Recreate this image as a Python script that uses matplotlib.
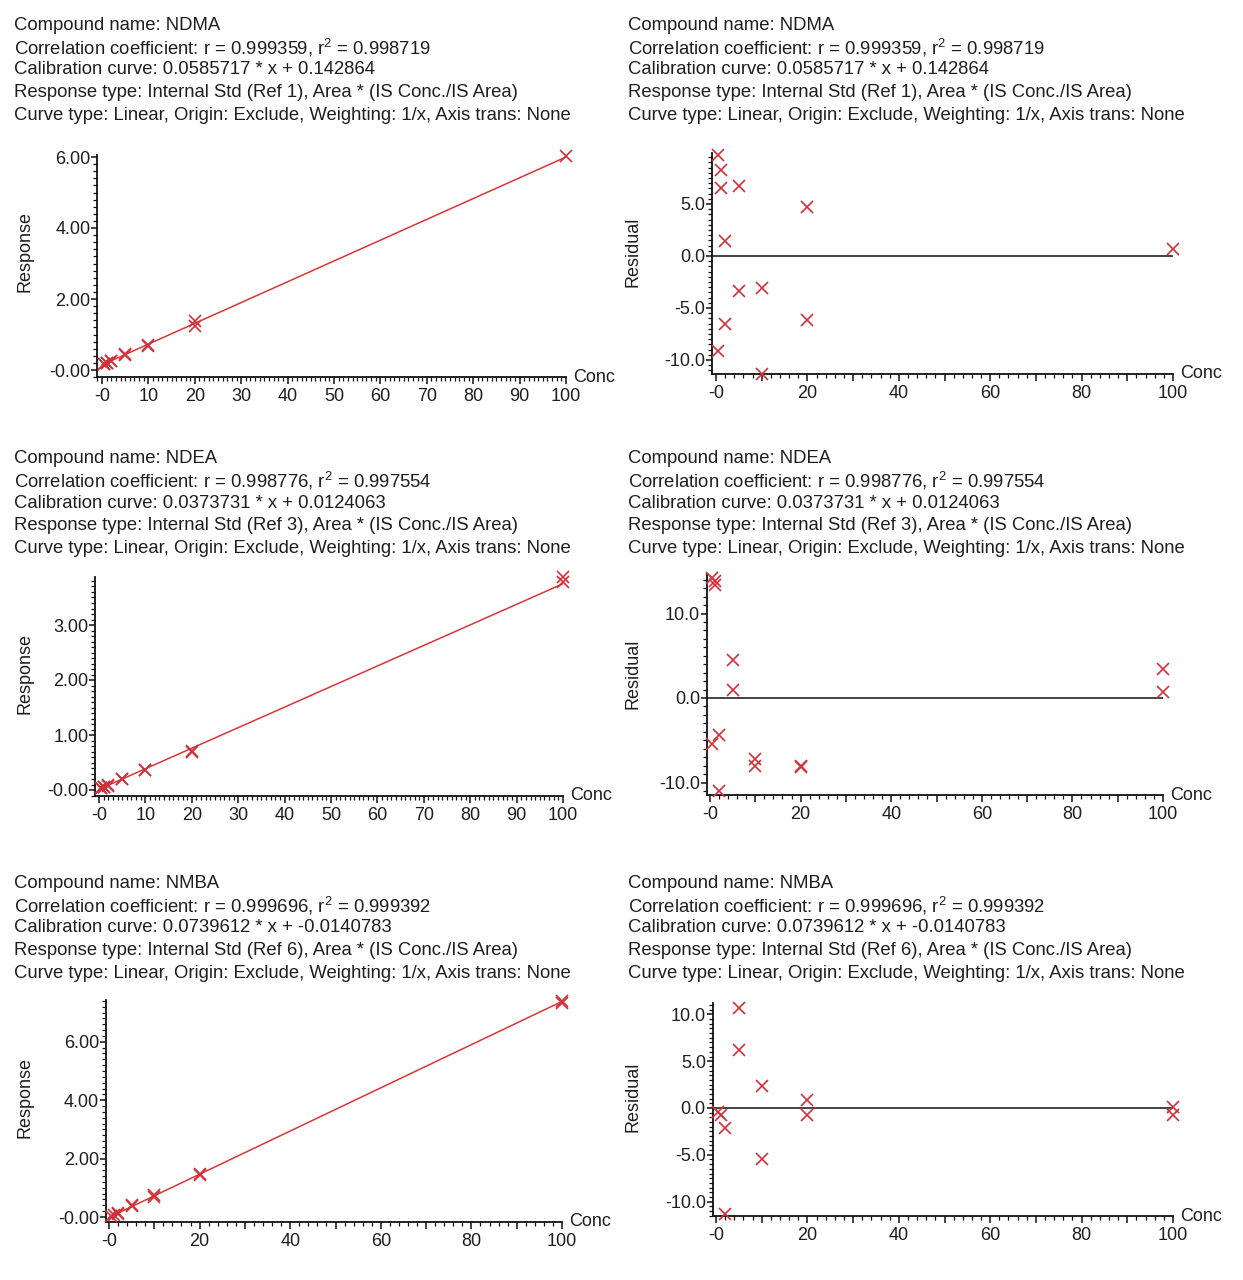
import numpy as np
import matplotlib
matplotlib.use('Agg')
import matplotlib.pyplot as plt
from matplotlib.ticker import MultipleLocator, FuncFormatter

plt.rcParams['font.family'] = ['Liberation Sans', 'DejaVu Sans']
plt.rcParams['mathtext.fontset'] = 'custom'
plt.rcParams['mathtext.rm'] = 'Liberation Sans'
plt.rcParams['mathtext.default'] = 'regular'

# ---------------- data ----------------
compounds = ['NDMA', 'NDEA', 'NMBA']
r_text = ['0.999359', '0.998776', '0.999696']
r2_text = ['0.998719', '0.997554', '0.999392']
slopes = [0.0585717, 0.0373731, 0.0739612]
intercepts = [0.142864, 0.0124063, -0.0140783]
slope_text = ['0.0585717', '0.0373731', '0.0739612']
intercept_text = ['0.142864', '0.0124063', '-0.0140783']
ref_ids = [1, 3, 6]

ndma_conc = [0.5, 0.5, 1, 1, 2, 2, 5, 5, 10, 10, 20, 20, 100]
ndma_resp = [0.1743, 0.1695, 0.2063, 0.2052, 0.2617, 0.2524, 0.4553, 0.4258,
             0.7104, 0.6624, 1.3694, 1.2417, 6.0410]
ndma_resid = [9.7, -9.1, 8.3, 6.5, 1.4, -6.5, 6.7, -3.4, -3.1, -11.3, 4.7, -6.2, 0.7]

ndea_conc = [0.5, 0.5, 1, 1, 2, 2, 5, 5, 10, 10, 20, 20, 100, 100]
ndea_resp = [0.0338, 0.0301, 0.0550, 0.0548, 0.0839, 0.0789, 0.2077, 0.2010,
             0.3592, 0.3562, 0.7001, 0.6986, 3.8768, 3.7759]
ndea_resid = [14.2, -5.4, 13.9, 13.4, -4.4, -11.0, 4.5, 0.9, -7.2, -8.0, -8.0, -8.2, 3.4, 0.7]

nmba_conc = [0.5, 1, 2, 2, 5, 5, 10, 10, 20, 20, 100, 100]
nmba_resp = [0.0228, 0.0593, 0.1307, 0.1171, 0.3953, 0.3787, 0.7433, 0.6856,
             1.4785, 1.4548, 7.3894, 7.3303]
nmba_resid = [-0.4, -0.8, -2.1, -11.3, 10.7, 6.2, 2.4, -5.4, 0.9, -0.7, 0.1, -0.7]

concs = [ndma_conc, ndea_conc, nmba_conc]
resps = [ndma_resp, ndea_resp, nmba_resp]
resids = [ndma_resid, ndea_resid, nmba_resid]

# ---------------- layout (pixels) ----------------
W, H = 1243, 1280
fig = plt.figure(figsize=(W / 100, H / 100), dpi=100)

TXT = '#1e1e1e'
RED_LINE = '#d93636'
RED_MK = '#d2303a'
FS_HEAD = 13.3
FS_TICK = 13
FS_LAB = 13

# per panel: x0px(at x=0), px per x unit, xlim left, y0px (at y=0), px per y unit, ylim
panel_geom = {
    (0, 0): (102, 4.64, -1.0, 370, 35.5, (-0.2, 6.06)),
    (0, 1): (716, 4.57, -0.9, 256, 10.4, (-11.3, 9.95)),
    (1, 0): (99, 4.64, -0.8, 790, 55.0, (-0.1, 3.88)),
    (1, 1): (710, 4.53, -0.7, 698, 8.45, (-11.5, 14.7)),
    (2, 0): (109, 4.53, -0.7, 1217, 29.2, (-0.17, 7.44)),
    (2, 1): (716, 4.57, -0.7, 1108, 9.36, (-11.55, 11.2)),
}
# tick settings: x major, x label step, x minor, y major, y minor, y decimals
panel_ticks = {
    (0, 0): (10, 10, 1, 2, 0.2, 2),
    (0, 1): (10, 20, 2, 5, 0.5, 1),
    (1, 0): (10, 10, 1, 1, 0.1, 2),
    (1, 1): (10, 20, 2, 10, 1, 1),
    (2, 0): (10, 20, 2, 2, 0.2, 2),
    (2, 1): (10, 20, 2, 5, 0.5, 1),
}
text_top = [25, 458.5, 883]
line_gap = 22.5
text_x = [14, 628]
ylabel_x = [25, 633]
ylabel_y = [252, 674, 1097]


def make_ax(row, col):
    x0, ppx, xl, y0, ppy, yl = panel_geom[(row, col)]
    left = x0 + xl * ppx
    right = x0 + 100 * ppx
    top = y0 - yl[1] * ppy
    bottom = y0 - yl[0] * ppy
    ax = fig.add_axes([left / W, 1 - bottom / H, (right - left) / W, (bottom - top) / H])
    ax.set_xlim(xl, 100)
    ax.set_ylim(*yl)
    return ax


def xfmt(step):
    def f(v, pos):
        if abs(v) < 1e-9:
            return '-0'
        if abs(round(v / step) * step - v) > 1e-6:
            return ''
        return '%d' % round(v)
    return FuncFormatter(f)


def yfmt(dec, resp):
    def f(v, pos):
        if abs(v) < 1e-9:
            return '-0.00' if resp else '0.0'
        return ('%.' + str(dec) + 'f') % v
    return FuncFormatter(f)


def style(ax, row, col):
    xmaj, xlab, xmin, ymaj, ymin, dec = panel_ticks[(row, col)]
    for s in ['top', 'right']:
        ax.spines[s].set_visible(False)
    for s in ['left', 'bottom']:
        ax.spines[s].set_linewidth(1.3)
        ax.spines[s].set_color('#111111')
    ax.xaxis.set_major_locator(MultipleLocator(xmaj))
    ax.xaxis.set_minor_locator(MultipleLocator(xmin))
    ax.yaxis.set_major_locator(MultipleLocator(ymaj))
    ax.yaxis.set_minor_locator(MultipleLocator(ymin))
    ax.xaxis.set_major_formatter(xfmt(xlab))
    ax.yaxis.set_major_formatter(yfmt(dec, col == 0))
    ax.tick_params(axis='x', which='major', direction='out', length=5, width=1.1,
                   pad=3, labelsize=FS_TICK, colors='#111111', labelcolor=TXT)
    ax.tick_params(axis='x', which='minor', direction='out', length=3, width=0.9,
                   colors='#111111')
    ax.tick_params(axis='y', which='major', direction='out', length=4.5, width=1.1,
                   pad=0.5, labelsize=FS_TICK, colors='#111111', labelcolor=TXT)
    ax.tick_params(axis='y', which='minor', direction='out', length=3, width=0.9,
                   colors='#111111')
    ax.patch.set_alpha(0)
    ax.annotate('Conc', xy=(1, 0), xycoords='axes fraction', xytext=(5, 0),
                textcoords='offset points', ha='left', va='center',
                fontsize=FS_LAB, color=TXT)


for row in range(3):
    # header texts (both columns)
    lines = [
        'Compound name: %s' % compounds[row],
        'Correlation coefficient: r = %s, r$^2$ = %s' % (r_text[row], r2_text[row]),
        'Calibration curve: %s * x + %s' % (slope_text[row], intercept_text[row]),
        'Response type: Internal Std (Ref %d), Area * (IS Conc./IS Area)' % ref_ids[row],
        'Curve type: Linear, Origin: Exclude, Weighting: 1/x, Axis trans: None',
    ]
    for col in range(2):
        for i, t in enumerate(lines):
            fig.text(text_x[col] / W, 1 - (text_top[row] + i * line_gap) / H, t,
                     ha='left', va='center', fontsize=FS_HEAD, color=TXT)
        fig.text(ylabel_x[col] / W, 1 - ylabel_y[row] / H,
                 'Response' if col == 0 else 'Residual', rotation=90,
                 ha='center', va='center', fontsize=FS_LAB, color=TXT)

    # response plot
    ax = make_ax(row, 0)
    xs = np.array([0.0, 100.0])
    ax.plot(xs, slopes[row] * xs + intercepts[row], color=RED_LINE, lw=1.1, zorder=2)
    ax.plot(concs[row], resps[row], ls='none', marker='x', ms=8.5, mew=1.2,
            color=RED_MK, zorder=3, clip_on=False)
    style(ax, row, 0)

    # residual plot
    ax2 = make_ax(row, 1)
    ax2.axhline(0, color='#111111', lw=1.1, zorder=1)
    ax2.plot(concs[row], resids[row], ls='none', marker='x', ms=8.5, mew=1.2,
             color=RED_MK, zorder=3, clip_on=False)
    style(ax2, row, 1)

fig.savefig('out.png', dpi=100, facecolor='white')
